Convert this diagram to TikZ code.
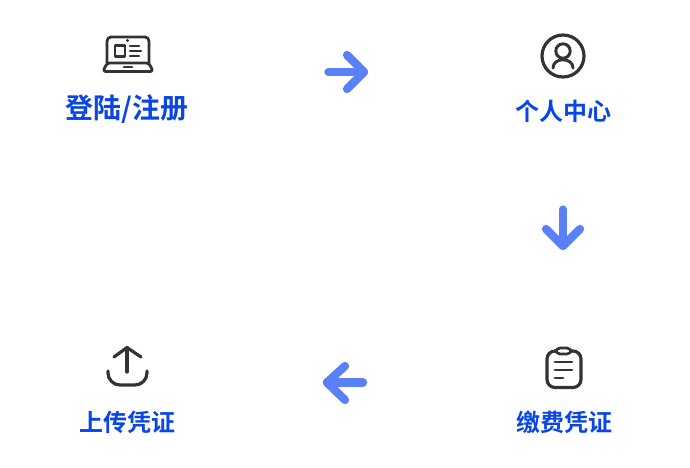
\documentclass[tikz,border=0pt]{standalone}
\usepackage{fontspec}
\newfontfamily\cjk[BoldFont={Noto Sans CJK SC Bold}]{Noto Sans CJK SC}
\definecolor{labelblue}{HTML}{0A45E6}
\definecolor{arrowblue}{HTML}{5A80F8}
\definecolor{icongray}{HTML}{333333}
\tikzset{
  x=0.75pt,y=-0.75pt,
  biglabel/.style={font=\cjk\bfseries\fontsize{20.9pt}{22pt}\selectfont,text=labelblue,inner sep=0pt,anchor=center},
  steplabel/.style={font=\cjk\bfseries\fontsize{18pt}{20pt}\selectfont,text=labelblue,inner sep=0pt,anchor=center},
  flowarrow/.style={draw=arrowblue,line width=6.2pt,line cap=round,line join=round},
  icon/.style={draw=icongray,line width=2.1pt,line cap=round,line join=round},
  thinicon/.style={draw=icongray,line width=1.8pt,line cap=round,line join=round},
}
\begin{document}
\begin{tikzpicture}
\useasboundingbox (0,0) rectangle (690,468);
\fill[white] (0,0) rectangle (690,468);
% labels
\node[biglabel] (login) at (127,109.5) {登陆/注册};
\node[steplabel] (center) at (563,111) {个人中心};
\node[steplabel] (pay) at (564,422.5) {缴费凭证};
\node[steplabel] (upload) at (127.5,422.5) {上传凭证};
% flow arrows
\coordinate (ra) at (328.5,72); \coordinate (rb) at (364,72);
\draw[flowarrow] (ra) -- (rb);
\draw[flowarrow] (347,55) -- (rb) -- (347,89);
\coordinate (da) at (563,209.5); \coordinate (db) at (563,246);
\draw[flowarrow] (da) -- (db);
\draw[flowarrow] (546,229) -- (db) -- (580,229);
\coordinate (la) at (363,382.5); \coordinate (lb) at (327,382.5);
\draw[flowarrow] (la) -- (lb);
\draw[flowarrow] (345,366) -- (lb) -- (345,400);
% laptop icon
\draw[icon,rounded corners=3pt] (107,63) -- (107,37) -- (149,37) -- (149,63);
\draw[icon,rounded corners=2pt] (107,63) -- (149,63) -- (153,71.5) -- (103,71.5) -- cycle;
\draw[thinicon] (115,45.5) rectangle (125,56.5);
\draw[thinicon] (130,46) -- (139,46) (130,51) -- (141,51) (130,56) -- (139,56);
\fill[icongray] (127.5,40.5) circle (1.6);
\draw[icon,line width=2.2pt] (124,67) -- (132,67);
% person icon
\draw[icon,line width=2.4pt] (563,56) circle (21);
\draw[icon,line width=2.2pt] (563,51) circle (7.2);
\draw[icon,line width=2.2pt] (553,68) .. controls (553,57) and (573,57) .. (573,68);
% clipboard icon
\draw[icon,line width=2.4pt,rounded corners=6pt] (556,351) -- (547,351) -- (547,387.5) -- (581,387.5) -- (581,351) -- (571,351);
\draw[icon,line width=2pt,rounded corners=3pt] (556,348) rectangle (571,354);
\draw[icon,line width=2.2pt] (555,362) -- (572,362) (555,370) -- (572,370) (555,378) -- (563,378);
% upload icon
\draw[icon,line width=2.4pt] (127,372) -- (127,348);
\draw[icon,line width=2.4pt] (114,357) -- (127,347.5) -- (141,357);
\draw[icon,line width=2.4pt,rounded corners=9pt] (108,371) -- (108,385) -- (147,385) -- (147,371);
\end{tikzpicture}
\end{document}
